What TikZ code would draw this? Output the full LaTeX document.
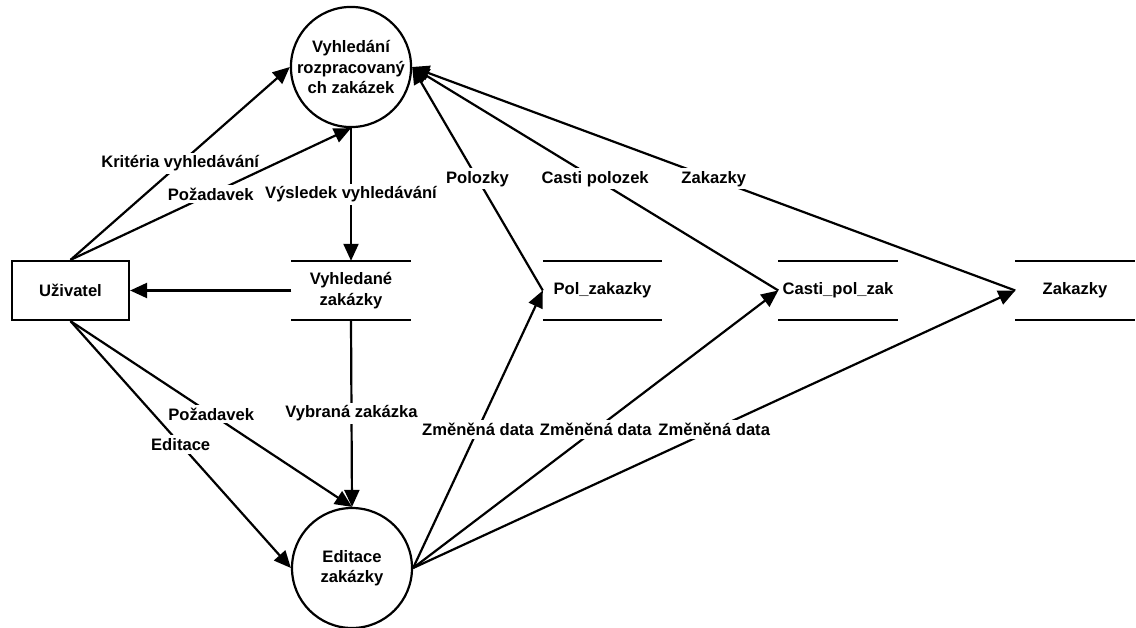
\documentclass[tikz,border=0pt]{standalone}
\usepackage{fontspec}
\setmainfont{Liberation Sans}
\usetikzlibrary{arrows.meta}
\begin{document}
\begin{tikzpicture}[x=1pt,y=-1pt,
 every node/.style={font=\fontsize{16.6}{20.5}\selectfont\bfseries},
 proc/.style={circle,draw,line width=2.2pt,align=center,inner sep=0pt},
 ent/.style={rectangle,draw,line width=2.2pt,minimum width=117pt,minimum height=59pt,inner sep=0pt},
 store/.style={minimum width=119pt,minimum height=59pt,inner sep=0pt,align=center},
 storeline/.style={line width=2.2pt},
 flow/.style={line width=2.2pt,-{Triangle[length=17pt,width=15pt]}},
 lbl/.style={fill=white,inner xsep=2pt,inner ysep=3pt}]
\useasboundingbox (0,0) rectangle (1136,627);

\node[proc,minimum size=117pt] (v) at (351,67) {Vyhledání\\rozpracovaný\\ch zakázek};
\node[proc,minimum size=120pt] (e) at (352,568) {Editace\\zakázky};
\node[ent] (u) at (70.5,290.5) {Uživatel};
\node[store] (vz) at (351,290.5) {Vyhledané\\zakázky};
\node[store] (pz) at (602.5,290.5) {Pol\_zakazky};
\node[store] (cp) at (838,290.5) {Casti\_pol\_zak};
\node[store] (zk) at (1075,290.5) {Zakazky};

\foreach \s in {vz,pz,cp,zk}{
  \draw[storeline] (\s.north west) -- (\s.north east) (\s.south west) -- (\s.south east);
}

\draw[flow] (u.north) -- (v.west) node[lbl,midway] {Kritéria vyhledávání};
\draw[flow] (u.north) -- (v.south) node[lbl,midway] {Požadavek};
\draw[flow] (v.south) -- (vz.north) node[lbl,midway] {Výsledek vyhledávání};
\draw[flow] (vz.west) -- (u.east);
\draw[flow] (vz.south) -- (e.north) node[lbl,midway] {Vybraná zakázka};
\draw[flow] (u.south) -- (e.north) node[lbl,midway] {Požadavek};
\draw[flow] (u.south) -- (e.west) node[lbl,midway] {Editace};

\draw[flow] (e.east) -- (pz.west) node[lbl,midway] {Změněná data};
\draw[flow] (e.east) -- (cp.west) node[lbl,midway] {Změněná data};
\draw[flow] (e.east) -- (zk.west) node[lbl,midway] {Změněná data};

\draw[flow] (pz.west) -- (v.east) node[lbl,midway] {Polozky};
\draw[flow] (cp.west) -- (v.east) node[lbl,midway] {Casti polozek};
\draw[flow] (zk.west) -- (v.east) node[lbl,midway] {Zakazky};
\end{tikzpicture}
\end{document}
